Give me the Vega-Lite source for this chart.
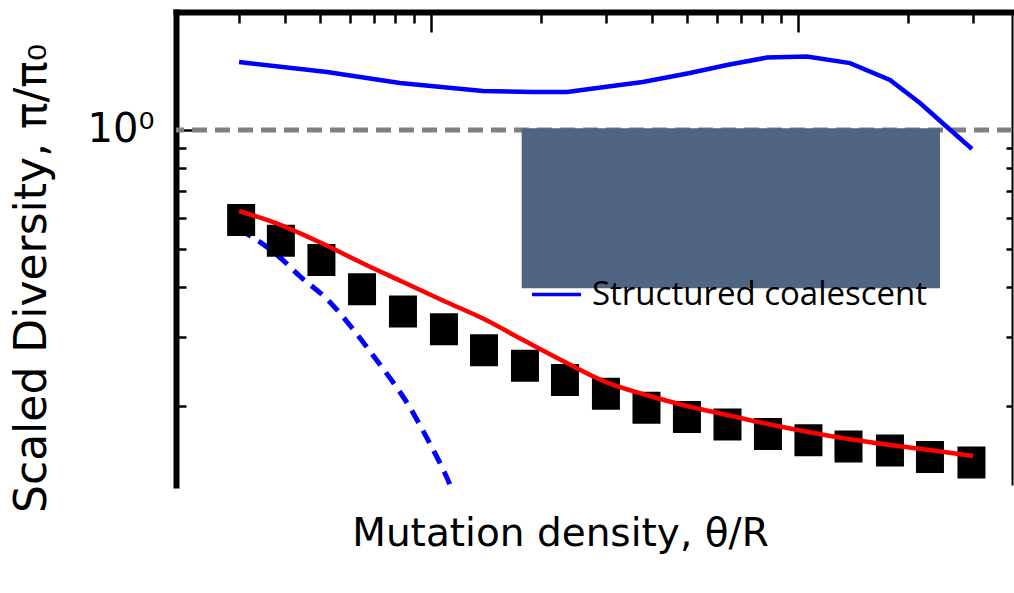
{
  "$schema": "https://vega.github.io/schema/vega-lite/v6.json",
  "width": 836,
  "height": 473,
  "autosize": {"type": "none"},
  "padding": {"left": 176, "top": 12, "right": 2, "bottom": 108},
  "background": "white",
  "config": {"view": {"stroke": null}},
  "datasets": {
    "sim": [
      {"x": 0.0304, "y": 0.592}, {"x": 0.0390, "y": 0.524}, {"x": 0.0503, "y": 0.469},
      {"x": 0.0649, "y": 0.395}, {"x": 0.0839, "y": 0.347}, {"x": 0.1085, "y": 0.313},
      {"x": 0.1395, "y": 0.277}, {"x": 0.1804, "y": 0.253}, {"x": 0.2318, "y": 0.233},
      {"x": 0.2998, "y": 0.215}, {"x": 0.3866, "y": 0.198}, {"x": 0.4983, "y": 0.1876},
      {"x": 0.6427, "y": 0.1796}, {"x": 0.8283, "y": 0.170}, {"x": 1.068, "y": 0.164},
      {"x": 1.373, "y": 0.158}, {"x": 1.781, "y": 0.1544}, {"x": 2.289, "y": 0.1487},
      {"x": 2.970, "y": 0.1440}
    ],
    "theory": [
      {"x": 0.0300, "y": 0.6236}, {"x": 0.0390, "y": 0.5746}, {"x": 0.0503, "y": 0.5174},
      {"x": 0.0649, "y": 0.4607}, {"x": 0.0839, "y": 0.4123}, {"x": 0.1085, "y": 0.3690},
      {"x": 0.1395, "y": 0.3322}, {"x": 0.1804, "y": 0.2922}, {"x": 0.2318, "y": 0.2586},
      {"x": 0.2998, "y": 0.2301}, {"x": 0.3866, "y": 0.2134}, {"x": 0.4983, "y": 0.2001},
      {"x": 0.6427, "y": 0.1899}, {"x": 0.8283, "y": 0.1802}, {"x": 1.068, "y": 0.1720},
      {"x": 1.373, "y": 0.1651}, {"x": 1.781, "y": 0.1594}, {"x": 2.289, "y": 0.1548},
      {"x": 2.998, "y": 0.1495}
    ],
    "structured": [
      {"x": 0.0300, "y": 1.486, "series": "Structured coalescent"},
      {"x": 0.0521, "y": 1.402, "series": "Structured coalescent"},
      {"x": 0.0823, "y": 1.315, "series": "Structured coalescent"},
      {"x": 0.1386, "y": 1.255, "series": "Structured coalescent"},
      {"x": 0.1897, "y": 1.248, "series": "Structured coalescent"},
      {"x": 0.2348, "y": 1.248, "series": "Structured coalescent"},
      {"x": 0.327, "y": 1.30, "series": "Structured coalescent"},
      {"x": 0.378, "y": 1.323, "series": "Structured coalescent"},
      {"x": 0.5078, "y": 1.394, "series": "Structured coalescent"},
      {"x": 0.6405, "y": 1.4606, "series": "Structured coalescent"},
      {"x": 0.823, "y": 1.525, "series": "Structured coalescent"},
      {"x": 1.058, "y": 1.534, "series": "Structured coalescent"},
      {"x": 1.386, "y": 1.477, "series": "Structured coalescent"},
      {"x": 1.781, "y": 1.339, "series": "Structured coalescent"},
      {"x": 2.15, "y": 1.170, "series": "Structured coalescent"},
      {"x": 2.547, "y": 1.0177, "series": "Structured coalescent"},
      {"x": 2.98, "y": 0.895, "series": "Structured coalescent"}
    ],
    "unstructured": [
      {"x": 0.0300, "y": 0.5615}, {"x": 0.0381, "y": 0.4826}, {"x": 0.0441, "y": 0.4251},
      {"x": 0.0524, "y": 0.3712}, {"x": 0.0606, "y": 0.3177}, {"x": 0.0700, "y": 0.2667},
      {"x": 0.0791, "y": 0.2288}, {"x": 0.0869, "y": 0.2011}, {"x": 0.0943, "y": 0.1759},
      {"x": 0.1015, "y": 0.1548}, {"x": 0.1074, "y": 0.1395}, {"x": 0.1128, "y": 0.1260},
      {"x": 0.1155, "y": 0.1180}
    ],
    "box": [{"x": 0.1767, "x2": 2.438, "y": 1.010, "y2": 0.3975}]
  },
  "resolve": {"axis": {"x": "independent", "y": "independent"}},
  "layer": [
    {
      "data": {"values": [{"y": 1}]},
      "mark": {"type": "rule", "color": "#808080", "strokeWidth": 5, "strokeDash": [15, 8]},
      "encoding": {
        "y": {"field": "y", "type": "quantitative", "scale": {"type": "log", "domain": [0.1263, 1.989]}, "axis": null}
      }
    },
    {
      "data": {"name": "unstructured"},
      "mark": {"type": "line", "color": "#0000ff", "strokeWidth": 5, "strokeDash": [14, 9], "clip": true, "interpolate": "monotone"},
      "encoding": {
        "x": {"field": "x", "type": "quantitative", "scale": {"type": "log", "domain": [0.0202, 3.83]}, "axis": null},
        "y": {"field": "y", "type": "quantitative", "scale": {"type": "log", "domain": [0.1263, 1.989]}, "axis": null}
      }
    },
    {
      "data": {"name": "sim"},
      "mark": {"type": "point", "filled": true, "color": "black", "opacity": 1, "shape": "M-0.875,-1L0.875,-1L0.875,1L-0.875,1Z", "size": 1024},
      "encoding": {
        "x": {"field": "x", "type": "quantitative", "scale": {"type": "log", "domain": [0.0202, 3.83]},
          "axis": {"orient": "top", "grid": false, "domain": true, "domainColor": "black", "domainWidth": 6, "domainCap": "square",
            "values": [0.03, 0.04, 0.05, 0.06, 0.07, 0.08, 0.09, 0.1, 0.2, 0.3, 0.4, 0.5, 0.6, 0.7, 0.8, 0.9, 1, 2, 3],
            "ticks": true, "tickColor": "black", "tickWidth": 2.5,
            "tickSize": {"condition": {"test": "datum.value === 0.1 || datum.value === 1", "value": -20}, "value": -11},
            "labels": false, "title": null}},
        "y": {"field": "y", "type": "quantitative", "scale": {"type": "log", "domain": [0.1263, 1.989]},
          "axis": {"orient": "left", "grid": false, "domain": true, "domainColor": "black", "domainWidth": 6, "domainCap": "square",
            "values": [0.2, 0.3, 0.4, 0.5, 0.6, 0.7, 0.8, 0.9, 1],
            "ticks": true, "tickColor": "black", "tickWidth": 2.5,
            "tickSize": {"condition": {"test": "datum.value === 1", "value": -19}, "value": -10},
            "labelExpr": "datum.value === 1 ? '10⁰' : ''",
            "labelFont": "DejaVu Sans", "labelFontSize": 40, "labelColor": "black", "labelPadding": 41,
            "title": "Scaled Diversity, π/π₀", "titleFont": "DejaVu Sans", "titleFontSize": 44, "titleFontWeight": "normal",
            "titleColor": "black", "titleAngle": -90, "titleAlign": "right", "titleBaseline": "alphabetic",
            "titleX": -131, "titleY": 31}}
      }
    },
    {
      "data": {"name": "theory"},
      "mark": {"type": "line", "color": "#ff0000", "strokeWidth": 4.5, "interpolate": "monotone"},
      "encoding": {
        "x": {"field": "x", "type": "quantitative", "scale": {"type": "log", "domain": [0.0202, 3.83]},
          "axis": {"orient": "bottom", "grid": false, "domain": false, "ticks": false, "labels": false,
            "title": "Mutation density, θ/R", "titleFont": "DejaVu Sans",
            "titleFontSize": 39, "titleFontWeight": "normal", "titleColor": "black",
            "titleX": 384, "titleY": 60, "titleAlign": "center", "titleBaseline": "alphabetic"}},
        "y": {"field": "y", "type": "quantitative", "scale": {"type": "log", "domain": [0.1263, 1.989]},
          "axis": {"orient": "right", "grid": false, "domain": true, "domainColor": "black", "domainWidth": 2,
            "values": [0.2, 0.3, 0.4, 0.5, 0.6, 0.7, 0.8, 0.9, 1],
            "ticks": true, "tickColor": "black", "tickWidth": 2.5, "tickSize": -6,
            "labels": false, "title": null}}
      }
    },
    {
      "data": {"name": "structured"},
      "mark": {"type": "line", "strokeWidth": 4.5, "interpolate": "linear"},
      "encoding": {
        "x": {"field": "x", "type": "quantitative", "scale": {"type": "log", "domain": [0.0202, 3.83]}, "axis": null},
        "y": {"field": "y", "type": "quantitative", "scale": {"type": "log", "domain": [0.1263, 1.989]}, "axis": null},
        "stroke": {"field": "series", "type": "nominal", "scale": {"domain": ["Structured coalescent"], "range": ["#0000ff"]},
          "legend": {"orient": "none", "legendX": 354, "legendY": 256, "title": null, "padding": 0,
            "symbolType": "stroke", "symbolSize": 2401, "symbolStrokeWidth": 3.5, "symbolStrokeColor": "#0000ff",
            "labelFont": "Open Sans", "labelFontSize": 33, "labelColor": "black", "labelOffset": 9, "labelLimit": 600}}
      }
    },
    {
      "data": {"name": "box"},
      "mark": {"type": "rect", "color": "#506582", "opacity": 1},
      "encoding": {
        "x": {"field": "x", "type": "quantitative", "scale": {"type": "log", "domain": [0.0202, 3.83]}, "axis": null},
        "x2": {"field": "x2"},
        "y": {"field": "y", "type": "quantitative", "scale": {"type": "log", "domain": [0.1263, 1.989]}, "axis": null},
        "y2": {"field": "y2"}
      }
    }
  ]
}
